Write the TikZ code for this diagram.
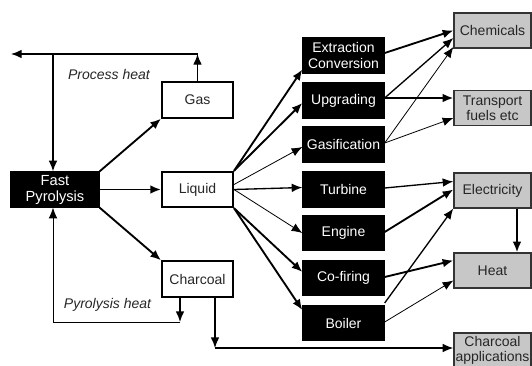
\documentclass[tikz,border=0pt]{standalone}
\usepackage{fontspec}
\setmainfont{Liberation Sans}
\usetikzlibrary{arrows.meta,calc}
\begin{document}
\begin{tikzpicture}[x=0.75pt,y=-0.75pt,
  font=\fontsize{10.5}{11.5}\selectfont,
  wbox/.style={draw=black,line width=1.5pt,fill=white,inner sep=0pt,minimum width=53.25pt,minimum height=26.5pt,text=black!85},
  bbox/.style={draw=black,line width=1pt,fill=black,text=white,inner sep=0pt,minimum width=60.75pt,minimum height=26.25pt,align=center},
  gbox/.style={draw=black!80,line width=1pt,fill=black!22,text=black!85,inner sep=0pt,minimum width=57.75pt,minimum height=26.25pt,align=center},
  arr/.style={-{Latex[length=8pt,width=6.5pt]},line width=1pt},
  thk/.style={line width=1.4pt},
  thn/.style={line width=0.6pt},
  lbl/.style={font=\fontsize{10.5}{11.5}\selectfont\itshape,text=black!85}
]
\useasboundingbox (0,0) rectangle (532,365);

% left nodes
\node[bbox,minimum width=66pt,font=\fontsize{11}{12}\selectfont] (fast) at (55,189.5) {Fast\\Pyrolysis};
\node[wbox] (gas) at (197.5,100) {Gas};
\node[wbox] (liq) at (197.5,189.5) {Liquid};
\node[wbox] (char) at (197.5,279) {Charcoal};

% middle black nodes
\node[bbox] (extr) at (343.5,55.5) {Extraction\\Conversion};
\node[bbox] (upg) at (343.5,100.5) {Upgrading};
\node[bbox] (gasf) at (343.5,144.5) {Gasification};
\node[bbox] (turb) at (343.5,189.5) {Turbine};
\node[bbox] (eng) at (343.5,233) {Engine};
\node[bbox] (cof) at (343.5,278) {Co-firing};
\node[bbox] (boil) at (343.5,323) {Boiler};

% right grey nodes
\node[gbox] (chem) at (492.5,30.5) {Chemicals};
\node[gbox] (trans) at (492.5,108) {Transport\\fuels etc};
\node[gbox] (elec) at (492.5,190.5) {Electricity};
\node[gbox] (heat) at (492.5,270.5) {Heat};
\node[gbox] (capp) at (492.5,350.5) {Charcoal\\applications};

% process heat loop
\coordinate (phR) at (197.5,54);
\coordinate (phL) at (11,54);
\coordinate (phJ) at (53,54);
\draw[arr] (gas.north) -- (phR);
\draw[arr] (phR) -- (phL);
\draw[arr] (phJ) -- (phJ |- fast.north);
\node[lbl] (plab) at (109,74) {Process heat};

% pyrolysis heat loop
\coordinate (pyR) at (180,322);
\coordinate (pyL) at (53,322);
\draw[arr] (char.south -| pyR) -- (pyR);
\draw[arr,thn] (pyR) -- (pyL) -- (pyL |- fast.south);
\node[lbl] (ylab) at (107.5,305) {Pyrolysis heat};

% charcoal applications
\coordinate (caJ) at (215,348);
\draw[arr] (char.south -| caJ) -- (caJ);
\draw[arr] (caJ) -- (caJ -| capp.west);

% fast pyrolysis outputs
\draw[arr,thk] (fast.north east) -- (gas.south west);
\draw[arr,thk] (fast.east) -- (liq.west);
\draw[arr,thk] (fast.south east) -- (char.north west);

% liquid to processes
\draw[arr,thk] (liq.north east) -- ($(extr.west)+(0,14)$);
\draw[arr,thk] (liq.north east) -- ($(upg.west)+(0,2.5)$);
\draw[arr,thn] ($(liq.east)+(0,-5)$) -- ($(gasf.west)+(0,2.5)$);
\draw[arr] (liq.east) -- ($(turb.west)+(0,-2)$);
\draw[arr,thn] (liq.east) -- (eng.west);
\draw[arr,thk] (liq.south east) -- ($(cof.west)+(0,-6)$);
\draw[arr,thk] (liq.south east) -- ($(boil.west)+(0,-13)$);

% processes to products
\draw[arr,thk] ($(extr.east)+(0,-2.5)$) -- (chem.west);
\draw[arr] ($(upg.east)+(0,-2.5)$) -- ($(chem.west)+(0,7.5)$);
\draw[arr,thn] ($(gasf.east)+(0,-1.5)$) -- ($(chem.west)+(0,16.5)$);
\draw[arr,thk] ($(upg.east)+(0,-2.5)$) -- ($(trans.west)+(0,-10)$);
\draw[arr,thn] ($(gasf.east)+(0,-1.5)$) -- ($(trans.west)+(0,10)$);
\draw[arr] ($(turb.east)+(0,-1.5)$) -- ($(elec.west)+(0,-9)$);
\draw[arr,thk] ($(eng.east)+(0,-1)$) -- ($(elec.west)+(0,-1)$);
\draw[arr] ($(boil.east)+(0,-20)$) -- ($(elec.west)+(0,18)$);
\draw[arr,thk] ($(cof.east)+(0,-1)$) -- ($(heat.west)+(0,-10)$);
\draw[arr,thn] ($(boil.east)+(0,-1)$) -- ($(heat.west)+(0,10)$);
\draw[arr,thk] ($(elec.south)+(24.5,0)$) -- ($(heat.north)+(24.5,0)$);
\end{tikzpicture}
\end{document}
